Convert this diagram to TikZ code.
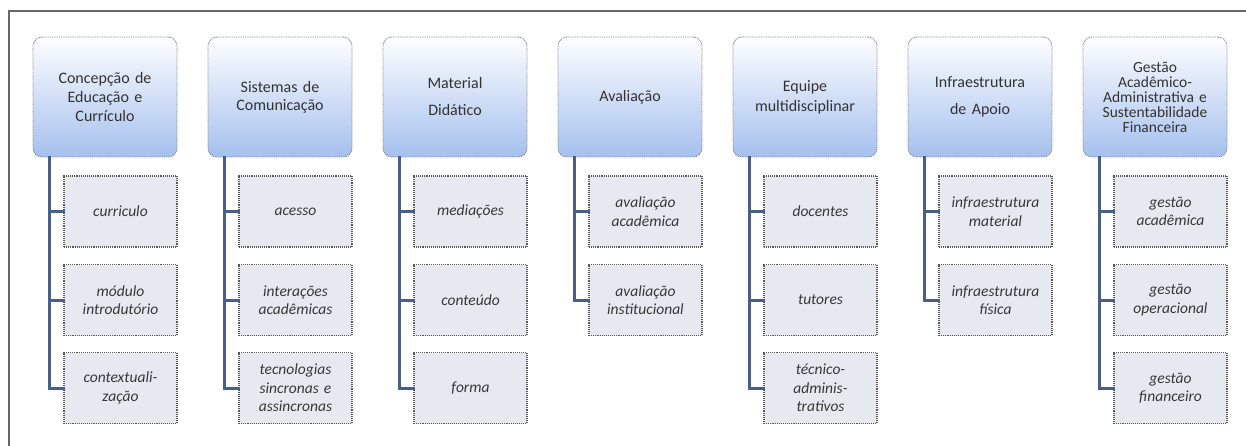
\documentclass[tikz,border=0pt]{standalone}
\usepackage{fontspec}
\setmainfont{Carlito}
\begin{document}
\begin{tikzpicture}[x=1pt,y=-1pt,
  topbox/.style={rounded corners=9pt, draw=black!45, dash pattern=on 1pt off 0.8pt, line width=0.9pt,
     top color=white!85!blue!3, bottom color={rgb,255:red,165;green,192;blue,238},
     minimum width=144pt, minimum height=120pt, inner sep=2pt, align=center, text=black!80,
     font=\fontsize{16}{19}\selectfont, text width=140pt},
  subbox/.style={draw=black!65, densely dotted, line width=1.1pt, fill={rgb,255:red,230;green,233;blue,240},
     minimum width=113pt, minimum height=71pt, inner sep=1pt, align=center, text=black!78,
     font=\fontsize{15.5}{18.5}\selectfont\itshape, text width=111pt},
  conn/.style={draw={rgb,255:red,72;green,96;blue,136}, line width=3pt, line cap=rect},
  frame/.style={draw=black!60, line width=2pt}
]
\useasboundingbox (0,0) rectangle (1246,446);
\coordinate (fa) at (9,446);
\coordinate (fb) at (9,11);
\coordinate (fc) at (1246,11);
\draw[frame] (fa) -- (fb) -- (fc);

% Column 1
\node[topbox] (t1) at (105,97) {Concepção de\\Educação e\\Currículo};
\node[subbox] (s11) at (120.5,211.5) {curriculo};
\node[subbox] (s12) at (120.5,300) {módulo\\introdutório};
\node[subbox] (s13) at (120.5,388) {contextuali-\\zação};
% Column 2
\node[topbox, font=\fontsize{16}{18}\selectfont] (t2) at (280,97) {Sistemas de\\Comunicação};
\node[subbox] (s21) at (295.5,211.5) {acesso};
\node[subbox] (s22) at (295.5,300) {interações\\acadêmicas};
\node[subbox] (s23) at (295.5,388) {tecnologias\\sincronas e\\assincronas};
% Column 3
\node[topbox, font=\fontsize{16}{27}\selectfont] (t3) at (455,97) {Material\\Didático};
\node[subbox] (s31) at (470.5,211.5) {mediações};
\node[subbox] (s32) at (470.5,300) {conteúdo};
\node[subbox] (s33) at (470.5,388) {forma};
% Column 4
\node[topbox] (t4) at (630,97) {Avaliação};
\node[subbox] (s41) at (645.5,211.5) {avaliação\\acadêmica};
\node[subbox] (s42) at (645.5,300) {avaliação\\institucional};
% Column 5
\node[topbox, font=\fontsize{16}{20}\selectfont] (t5) at (805,97) {Equipe\\multidisciplinar};
\node[subbox] (s51) at (820.5,211.5) {docentes};
\node[subbox] (s52) at (820.5,300) {tutores};
\node[subbox] (s53) at (820.5,388) {técnico-\\adminis-\\trativos};
% Column 6
\node[topbox, font=\fontsize{16}{27}\selectfont] (t6) at (980,97) {Infraestrutura\\de Apoio};
\node[subbox] (s61) at (995.5,211.5) {infraestrutura\\material};
\node[subbox] (s62) at (995.5,300) {infraestrutura\\física};
% Column 7
\node[topbox, font=\fontsize{15.5}{15}\selectfont] (t7) at (1155,97) {Gestão\\Acadêmico-\\Administrativa e\\Sustentabilidade\\Financeira};
\node[subbox] (s71) at (1170.5,211.5) {gestão\\acadêmica};
\node[subbox] (s72) at (1170.5,300) {gestão\\operacional};
\node[subbox] (s73) at (1170.5,388) {gestão\\financeiro};

% connectors
\foreach \t/\list in {t1/{s11,s12,s13}, t2/{s21,s22,s23}, t3/{s31,s32,s33},
    t4/{s41,s42}, t5/{s51,s52,s53}, t6/{s61,s62}, t7/{s71,s72,s73}} {
  \foreach \s in \list { \draw[conn] ([xshift=17pt]\t.south west) |- (\s.west); }
}
\end{tikzpicture}
\end{document}
